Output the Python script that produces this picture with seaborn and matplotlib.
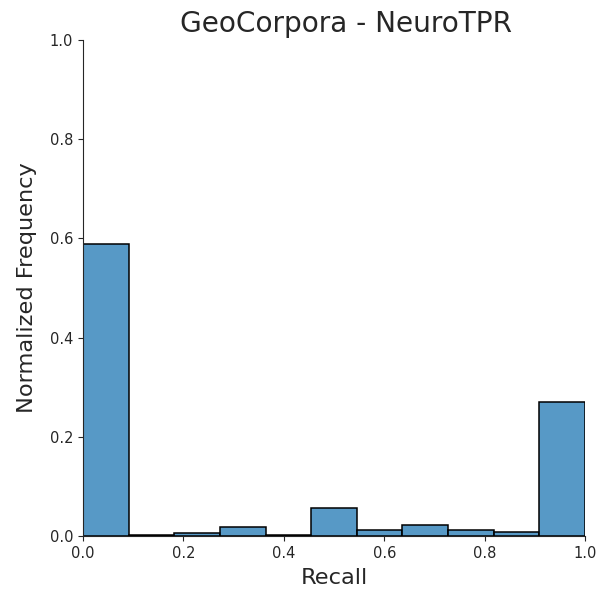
import matplotlib
matplotlib.use("Agg")
import matplotlib.pyplot as plt
import seaborn as sns
import numpy as np
import pandas as pd

# Data
bin_centers = [0.045, 0.136, 0.227, 0.318, 0.409, 0.5, 0.591, 0.682, 0.773, 0.864, 0.955]
frequencies = [0.588, 0.003, 0.006, 0.019, 0.003, 0.057, 0.012, 0.022, 0.012, 0.008, 0.270]
title = "GeoCorpora - NeuroTPR"
xlabel = "Recall"
ylabel = "Normalized Frequency"

sns.set_style("ticks")
df = pd.DataFrame({"recall": bin_centers, "freq": frequencies})

fig = plt.figure(figsize=(5.99, 5.95), dpi=100)
ax = fig.add_axes([0.1386, 0.099, 0.838, 0.834])
sns.histplot(data=df, x="recall", weights="freq", bins=11, binrange=(0, 1),
             ax=ax, edgecolor="black", linewidth=1.1, alpha=0.75, color="#1f77b4")
ax.set_xlim(0, 1)
ax.set_ylim(0, 1)
ax.set_title(title, fontsize=20.2, color="#262626", x=0.524)
ax.set_xlabel(xlabel, fontsize=16.2, color="#262626", labelpad=5)
ax.set_ylabel(ylabel, fontsize=16.2, color="#262626", labelpad=9)
ax.tick_params(labelsize=10.5, colors="#262626")
sns.despine(ax=ax)
fig.savefig("out.png", dpi=100)
